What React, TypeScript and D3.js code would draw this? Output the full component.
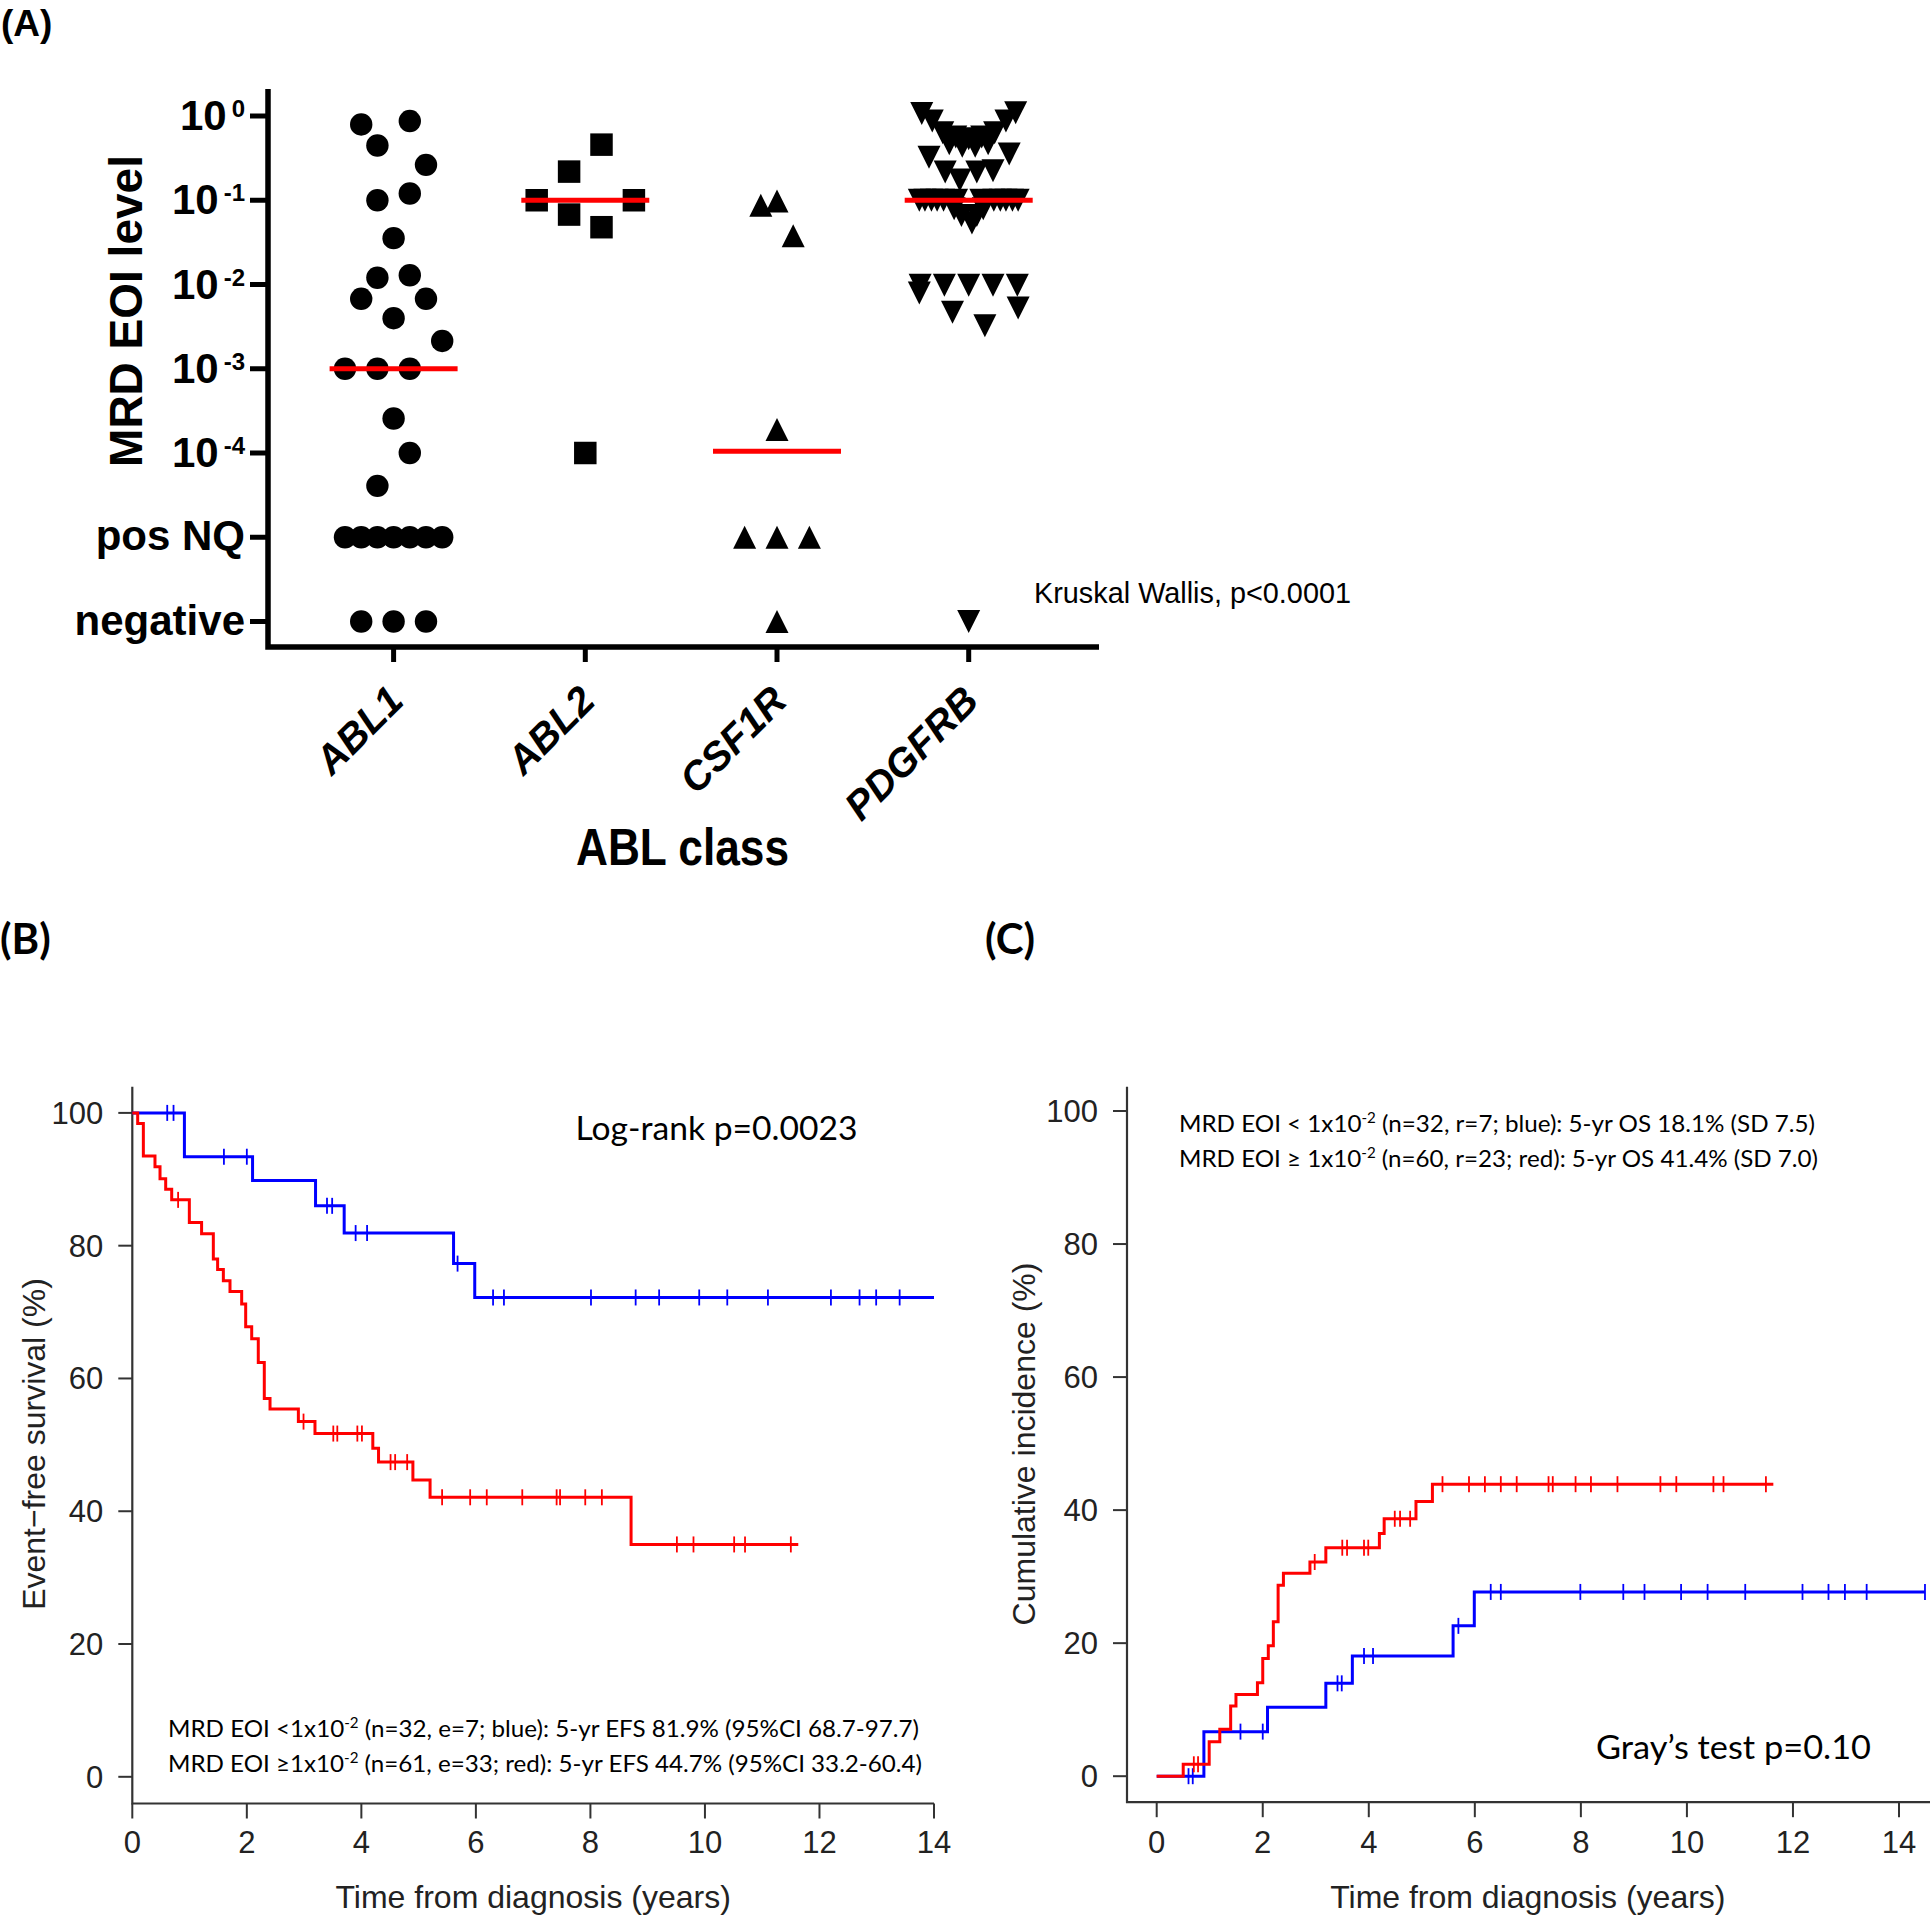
import React from 'react';
import * as d3 from 'd3';

// ---------- Panel A data ----------
const categories = ['ABL1', 'ABL2', 'CSF1R', 'PDGFRB'];
const powerTicks = [0, -1, -2, -3, -4];
const wordTicks = [-5, -6];
const wordTickLabels = ['pos NQ', 'negative'];

// log10(MRD); -5 = pos NQ, -6 = negative; slot = column offset
const abl1Log = [-0.1, -0.06, -0.35, -0.58, -1.0, -0.92, -1.45, -1.92, -1.89, -2.17, -2.17, -2.4, -2.67, -3, -3, -3, -3.59, -4, -4.39, -5, -5, -5, -5, -5, -5, -5, -6, -6, -6];
const abl1Slot = [-2, 1, -1, 2, -1, 1, 0, -1, 1, -2, 2, 0, 3, -3, -1, 1, 0, 1, -1, -3, -2, -1, 0, 1, 2, 3, -2, 0, 2];
const abl2Log = [-0.34, -0.66, -1, -1, -1.17, -1.32, -4];
const abl2Slot = [1, -1, -3, 3, -1, 1, 0];
const csf1rLog = [-1.06, -1.01, -1.42, -3.72, -5, -5, -5, -6];
const csf1rSlot = [-1, 0, 1, 0, -2, 0, 2, 0];
const pdgfrbLog = [
  0.03, -0.06, 0.04, -0.06,
  -0.2, -0.25, -0.27, -0.25, -0.2,
  -0.33, -0.36, -0.36, -0.33,
  -0.49, -0.45,
  -0.665, -0.76, -0.665, -0.65,
  -1, -1, -1, -1, -1, -1, -1, -1, -1, -1, -1, -1,
  -1.1, -1.1, -1.18, -1.18, -1.27,
  -2.01, -2.01, -2.01, -2.01, -2.01, -2.1, -2.33, -2.28, -2.49,
  -6,
];
const pdgfrbSlot = [
  -2.9, -2.25, 2.9, 2.3,
  -1.6, -0.8, 0, 0.8, 1.6,
  -1.2, -0.4, 0.4, 1.2,
  -2.45, 2.5,
  -1.45, -0.55, 0.5, 1.5,
  -3.05, -2.7, -2.3, -1.95, -1.55, 1.55, 1.95, 2.3, 2.7, 3.05, -0.75, 0.75,
  -0.9, 0.9, -0.45, 0.5, 0.2,
  -3, -1.5, 0, 1.5, 3, -3.05, -1, 3.05, 1,
  0,
];
const medians = [-3, -1, -3.98, -1];

// ---------- Panel B data (EFS, %) ----------
const efsBlueTime = [0, 0.91, 2.1, 3.2, 3.7, 5.61, 5.98, 14.0];
const efsBlueSurv = [100, 93.4, 89.8, 86.0, 81.9, 77.3, 72.2, 72.2];
const efsBlueCensor = [0.61, 0.72, 1.6, 2.0, 3.4, 3.49, 3.9, 4.1, 5.68, 6.3, 6.49, 8.01, 8.79, 9.2, 9.9, 10.39, 11.1, 12.2, 12.7, 12.99, 13.4];
const efsRedTime = [0, 0.094, 0.193, 0.396, 0.484, 0.583, 0.688, 0.996, 1.21, 1.415, 1.49, 1.59, 1.706, 1.91, 1.98, 2.085, 2.2, 2.305, 2.405, 2.9, 3.19, 4.2, 4.3, 4.9, 5.2, 8.71, 11.63];
const efsRedSurv = [100, 98.4, 93.5, 91.9, 90.1, 88.5, 86.9, 83.5, 81.8, 78.0, 76.4, 74.7, 73.1, 71.2, 67.8, 66.0, 62.4, 57.0, 55.4, 53.5, 51.7, 49.5, 47.4, 44.7, 42.1, 35.0, 35.0];
const efsRedCensor = [0.8, 2.99, 3.51, 3.58, 3.93, 4.01, 4.51, 4.59, 4.8, 5.41, 5.9, 6.19, 6.81, 7.41, 7.47, 7.91, 8.2, 9.51, 9.8, 10.51, 10.7, 11.5];

// ---------- Panel C data (cumulative incidence, %) ----------
const ciBlueTime = [0, 0.89, 2.09, 3.19, 3.69, 5.59, 5.99, 14.49];
const ciBlueInc = [0, 6.7, 10.35, 13.96, 18.07, 22.6, 27.7, 27.7];
const ciBlueCensor = [0.6, 0.68, 1.58, 2.0, 3.41, 3.49, 3.91, 4.08, 5.69, 6.3, 6.49, 7.99, 8.8, 9.2, 9.89, 10.39, 11.1, 12.18, 12.67, 12.98, 13.39, 14.49];
const ciRedTime = [0, 0.5, 0.99, 1.19, 1.395, 1.495, 1.9, 2.0, 2.105, 2.2, 2.29, 2.39, 2.89, 3.19, 4.2, 4.29, 4.89, 5.2, 11.63];
const ciRedInc = [0, 1.79, 5.19, 7.04, 10.55, 12.3, 14.06, 17.7, 19.6, 23.2, 28.7, 30.5, 32.2, 34.35, 36.5, 38.7, 41.3, 43.9, 43.9];
const ciRedCensor = [0.7, 0.78, 2.98, 3.5, 3.59, 3.91, 3.99, 4.49, 4.59, 4.78, 5.39, 5.89, 6.19, 6.49, 6.79, 7.39, 7.47, 7.9, 8.19, 8.69, 9.5, 9.8, 10.5, 10.69, 11.49];

const timeTicks = [0, 2, 4, 6, 8, 10, 12, 14];
const pctTicks = [0, 20, 40, 60, 80, 100];

// ---------- helpers ----------
const ARIAL = "'Liberation Sans', Arial, Helvetica, sans-serif";
const NARROW = "'Liberation Sans Narrow', 'Arial Narrow', 'Liberation Sans', Arial, sans-serif";
const CAL = "Lato, 'Open Sans', sans-serif";

function triPath(cx: number, cy: number, up: boolean, hw = 11.5, hh = 11.5) {
  const p = d3.path();
  if (up) {
    p.moveTo(cx, cy - hh);
    p.lineTo(cx + hw, cy + hh);
    p.lineTo(cx - hw, cy + hh);
  } else {
    p.moveTo(cx - hw, cy - hh);
    p.lineTo(cx + hw, cy - hh);
    p.lineTo(cx, cy + hh);
  }
  p.closePath();
  return p.toString();
}

function levelAt(times: number[], vals: number[], t: number) {
  const i = Math.max(0, d3.bisectRight(times, t) - 1);
  return vals[i];
}

function PanelA() {
  const xA = d3.scalePoint<string>().domain(categories).range([393.6, 968.7]);
  const yA = d3.scaleLinear().domain([0, -6]).range([116, 621.5]);
  const slotW = 16.2;
  const axisX = 268;
  const axisY = 647;
  const circle = d3.symbol().type(d3.symbolCircle).size(Math.PI * 11.2 * 11.2)();
  const square = d3.symbol().type(d3.symbolSquare).size(22.5 * 22.5)();

  const groups = [
    { cat: 'ABL1', vals: abl1Log, slots: abl1Slot, kind: 'circle' },
    { cat: 'ABL2', vals: abl2Log, slots: abl2Slot, kind: 'square' },
    { cat: 'CSF1R', vals: csf1rLog, slots: csf1rSlot, kind: 'up' },
    { cat: 'PDGFRB', vals: pdgfrbLog, slots: pdgfrbSlot, kind: 'down' },
  ];

  return (
    <g>
      <text x={1} y={36} fontFamily={ARIAL} fontWeight="bold" fontSize={37}>(A)</text>
      {/* axes */}
      <path d={`M${axisX},89 V${axisY} H1099`} fill="none" stroke="#000" strokeWidth={5.5} />
      {powerTicks.concat(wordTicks).map((v) => (
        <line key={'yt' + v} x1={250} x2={axisX} y1={yA(v)} y2={yA(v)} stroke="#000" strokeWidth={5} />
      ))}
      {powerTicks.map((v) => (
        <text key={'yl' + v} x={245} y={yA(v) + 14} textAnchor="end" fontFamily={ARIAL} fontWeight="bold" fontSize={42}>
          10<tspan dx={5} dy={-13} fontSize={24}>{v === 0 ? '0' : String(v)}</tspan>
        </text>
      ))}
      {wordTicks.map((v, i) => (
        <text key={'yw' + v} x={245} y={yA(v) + 13} textAnchor="end" fontFamily={ARIAL} fontWeight="bold" fontSize={42}>
          {wordTickLabels[i]}
        </text>
      ))}
      <text transform="translate(142,311) rotate(-90)" textAnchor="middle" fontFamily={ARIAL} fontWeight="bold" fontSize={46}>
        MRD EOI level
      </text>
      {categories.map((c) => (
        <g key={c}>
          <line x1={xA(c)} x2={xA(c)} y1={axisY} y2={axisY + 15} stroke="#000" strokeWidth={5} />
          <text
            transform={`translate(${(xA(c) as number) + 12},${axisY + 56}) rotate(-45)`}
            textAnchor="end"
            fontFamily={ARIAL}
            fontWeight="bold"
            fontStyle="italic"
            fontSize={40}
          >
            {c}
          </text>
        </g>
      ))}
      <text x={682.5} y={865} textAnchor="middle" fontFamily={NARROW} fontWeight="bold" fontSize={52} textLength={213} lengthAdjust="spacingAndGlyphs">
        ABL class
      </text>
      <text x={1034} y={603} fontFamily={NARROW} fontSize={30} textLength={317} lengthAdjust="spacingAndGlyphs">
        Kruskal Wallis, p&lt;0.0001
      </text>
      {/* points */}
      {groups.map((g) =>
        g.vals.map((v, i) => {
          const cx = (xA(g.cat) as number) + g.slots[i] * slotW;
          const cy = yA(v);
          if (g.kind === 'circle') return <path key={g.cat + i} d={circle as string} transform={`translate(${cx},${cy})`} fill="#000" />;
          if (g.kind === 'square') return <path key={g.cat + i} d={square as string} transform={`translate(${cx},${cy})`} fill="#000" />;
          return <path key={g.cat + i} d={triPath(cx, cy, g.kind === 'up')} fill="#000" />;
        })
      )}
      {/* medians */}
      {categories.map((c, i) => (
        <line key={'m' + c} x1={(xA(c) as number) - 64} x2={(xA(c) as number) + 64} y1={yA(medians[i])} y2={yA(medians[i])} stroke="#ff0000" strokeWidth={5} />
      ))}
    </g>
  );
}

type Series = { time: number[]; val: number[]; censor: number[]; color: string };

function KMPanel(props: {
  x: d3.ScaleLinear<number, number>;
  y: d3.ScaleLinear<number, number>;
  axisX: number;
  axisY: number;
  xEnd: number;
  series: Series[];
  yTitle: string;
  yTitleX: number;
}) {
  const { x, y, axisX, axisY, xEnd, series } = props;
  const line = d3
    .line<[number, number]>()
    .x((d) => x(d[0]))
    .y((d) => y(d[1]))
    .curve(d3.curveStepAfter);
  const axisColor = '#333';
  return (
    <g>
      <path d={`M${axisX},1086.8 V${axisY} H${xEnd}`} fill="none" stroke={axisColor} strokeWidth={2.2} />
      {pctTicks.map((v) => (
        <g key={'p' + v}>
          <line x1={axisX - 14} x2={axisX} y1={y(v)} y2={y(v)} stroke={axisColor} strokeWidth={2} />
          <text x={axisX - 29} y={y(v) + 11} textAnchor="end" fontFamily={ARIAL} fontSize={31} fill="#222">
            {v}
          </text>
        </g>
      ))}
      {timeTicks.map((t) => (
        <g key={'t' + t}>
          <line x1={x(t)} x2={x(t)} y1={axisY} y2={axisY + 15} stroke={axisColor} strokeWidth={2} />
          <text x={x(t)} y={1853} textAnchor="middle" fontFamily={ARIAL} fontSize={31} fill="#222">
            {t}
          </text>
        </g>
      ))}
      <text x={(x(0) + x(14)) / 2} y={1908} textAnchor="middle" fontFamily={ARIAL} fontSize={32} fill="#222">
        Time from diagnosis (years)
      </text>
      <text transform={`translate(${props.yTitleX},1444) rotate(-90)`} textAnchor="middle" fontFamily={ARIAL} fontSize={32} fill="#222">
        {props.yTitle}
      </text>
      {series.map((s, si) => (
        <g key={'s' + si}>
          <path d={line(s.time.map((t, i) => [t, s.val[i]] as [number, number])) as string} fill="none" stroke={s.color} strokeWidth={3} />
          {s.censor.map((t, i) => {
            const cx = x(t);
            const cy = y(levelAt(s.time, s.val, t));
            return <line key={i} x1={cx} x2={cx} y1={cy - 8} y2={cy + 8} stroke={s.color} strokeWidth={1.8} />;
          })}
        </g>
      ))}
    </g>
  );
}

export default function App() {
  const xB = d3.scaleLinear().domain([0, 14]).range([132.3, 934]);
  const yB = d3.scaleLinear().domain([0, 100]).range([1776.8, 1112.9]);
  const xC = d3.scaleLinear().domain([0, 14]).range([1156.7, 1899]);
  const yC = d3.scaleLinear().domain([0, 100]).range([1776.2, 1111]);

  return (
    <svg width={1930} height={1918} viewBox="0 0 1930 1918" style={{ position: 'absolute', left: 0, top: 0, background: '#fff' }}>
      <rect x={0} y={0} width={1930} height={1918} fill="#fff" />
      <PanelA />

      {/* Panel B */}
      <text x={0} y={954} fontFamily={CAL} fontWeight="bold" fontSize={42}>(B)</text>
      <KMPanel
        x={xB}
        y={yB}
        axisX={132.3}
        axisY={1803.5}
        xEnd={934}
        yTitle={'Event\u2212free survival (%)'}
        yTitleX={45}
        series={[
          { time: efsBlueTime, val: efsBlueSurv, censor: efsBlueCensor, color: '#0000ff' },
          { time: efsRedTime, val: efsRedSurv, censor: efsRedCensor, color: '#ff0000' },
        ]}
      />
      <text x={575.5} y={1140} fontFamily={CAL} fontSize={32} textLength={282} lengthAdjust="spacingAndGlyphs">
        Log-rank p=0.0023
      </text>
      <text x={168} y={1736.5} fontFamily={CAL} fontSize={24} textLength={751} lengthAdjust="spacingAndGlyphs">
        MRD EOI &lt;1x10<tspan dy={-9} fontSize={15}>-2</tspan>
        <tspan dy={9}> (n=32, e=7; blue): 5-yr EFS 81.9% (95%CI 68.7-97.7)</tspan>
      </text>
      <text x={168} y={1771.5} fontFamily={CAL} fontSize={24} textLength={754} lengthAdjust="spacingAndGlyphs">
        MRD EOI ≥1x10<tspan dy={-9} fontSize={15}>-2</tspan>
        <tspan dy={9}> (n=61, e=33; red): 5-yr EFS 44.7% (95%CI 33.2-60.4)</tspan>
      </text>

      {/* Panel C */}
      <text x={985} y={954} fontFamily={CAL} fontWeight="bold" fontSize={42}>(C)</text>
      <KMPanel
        x={xC}
        y={yC}
        axisX={1127}
        axisY={1802.2}
        xEnd={1930}
        yTitle="Cumulative incidence (%)"
        yTitleX={1035}
        series={[
          { time: ciBlueTime, val: ciBlueInc, censor: ciBlueCensor, color: '#0000ff' },
          { time: ciRedTime, val: ciRedInc, censor: ciRedCensor, color: '#ff0000' },
        ]}
      />
      <text x={1179} y={1132} fontFamily={CAL} fontSize={24} textLength={636} lengthAdjust="spacingAndGlyphs">
        MRD EOI &lt; 1x10<tspan dy={-9} fontSize={15}>-2</tspan>
        <tspan dy={9}> (n=32, r=7; blue): 5-yr OS 18.1% (SD 7.5)</tspan>
      </text>
      <text x={1179} y={1167} fontFamily={CAL} fontSize={24} textLength={639} lengthAdjust="spacingAndGlyphs">
        MRD EOI ≥ 1x10<tspan dy={-9} fontSize={15}>-2</tspan>
        <tspan dy={9}> (n=60, r=23; red): 5-yr OS 41.4% (SD 7.0)</tspan>
      </text>
      <text x={1596} y={1759} fontFamily={CAL} fontSize={32} textLength={275} lengthAdjust="spacingAndGlyphs">
        Gray’s test p=0.10
      </text>
    </svg>
  );
}
